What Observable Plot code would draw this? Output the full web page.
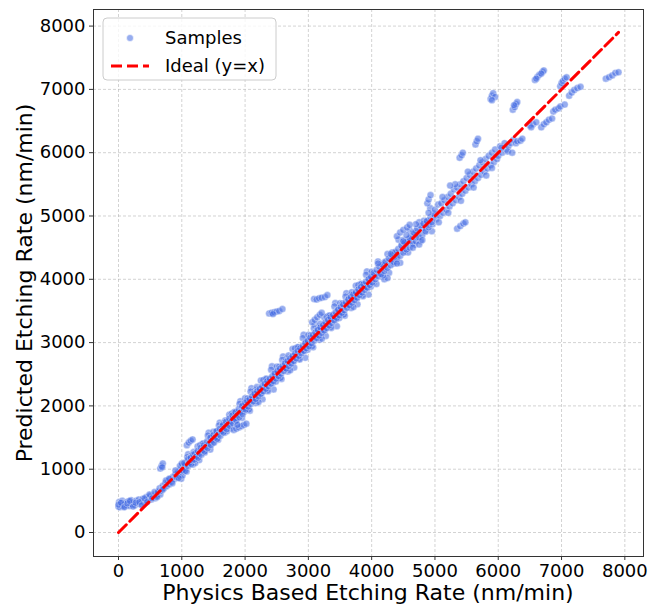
<!DOCTYPE html>
<html>
<head>
<meta charset="utf-8">
<script src="https://cdn.jsdelivr.net/npm/d3@7"></script>
<script src="https://cdn.jsdelivr.net/npm/@observablehq/plot@0.6"></script>
<style>
  html, body { margin: 0; padding: 0; background: #fff; }
  #chart { width: 648px; height: 606px; }
</style>
</head>
<body>
<div id="chart"></div>
<script>
// ---- Data (physics-based rate, predicted rate), nm/min ----
const lowRange = [
  [0,410],[10,480],[20,400],[30,460],[50,420],[60,500],[80,440],[100,410],[110,470],[130,430],
  [150,490],[170,420],[190,460],[200,510],[220,440],[240,480],[260,430],[280,500],[300,460],[320,520],
  [340,450],[360,490],[380,530],[400,470],[420,510],[440,560],[460,500],[480,540],[500,580],[520,520],
  [540,560],[560,600],[580,540],[600,620],[620,580],[640,650],[660,600],
  [0,440],[40,470],[90,400],[140,460],[180,500],[230,410],[270,470],[330,480],[370,430],[410,540],
  [450,480],[490,600],[530,540],[570,640],[610,560],
  [620,640],[650,700],[680,660],[700,740],[720,700],[740,780],[760,730],[780,820],[800,760],[820,850],
  [840,800],[860,880],[880,840],[900,920],[920,870],[940,960],[960,900],[980,1000],[1000,950],[1000,1060],
  [1020,1000],[1040,1080],[1060,1020],[1080,1120],[990,850],[1010,900],[970,1050],
  [700,680],[750,820],[800,850],[850,780],[900,980],[950,860]
];
const bandCore = [
  [1100,1050],[1100,1160],[1120,1100],[1140,1180],[1150,1080],[1170,1140],[1180,1230],[1200,1150],[1210,1250],[1230,1200],
  [1250,1290],[1260,1180],[1280,1250],[1300,1340],[1310,1230],[1330,1300],[1350,1380],[1360,1280],[1380,1350],[1400,1440],
  [1410,1330],[1430,1400],[1450,1500],[1460,1380],[1480,1450],[1500,1540],[1510,1420],[1530,1500],[1550,1600],[1560,1480],
  [1580,1550],[1600,1640],[1610,1530],[1630,1600],[1650,1700],[1660,1580],[1680,1650],[1700,1750],[1710,1630],[1730,1700],
  [1750,1800],[1760,1680],[1780,1750],[1800,1850],[1810,1720],[1830,1800],[1850,1900],[1860,1770],[1880,1850],[1900,1950],
  [1910,1820],[1930,1900],[1950,2000],[1960,1870],[1980,1950],[2000,2050],
  [2010,1940],[2030,2080],[2050,1990],[2070,2110],[2090,2030],[2110,2150],[2130,2070],[2150,2190],[2170,2110],[2190,2230],
  [2210,2150],[2230,2270],[2250,2190],[2270,2310],[2290,2230],[2310,2350],[2330,2270],[2350,2390],[2370,2310],[2390,2430],
  [2410,2350],[2430,2470],[2450,2390],[2470,2510],[2490,2430],[2510,2550],[2530,2470],[2550,2590],[2570,2510],[2590,2630],
  [2610,2550],[2630,2670],[2650,2590],[2670,2710],[2690,2630],[2710,2750],[2730,2670],[2750,2790],[2770,2710],[2790,2830],
  [2810,2750],[2830,2870],[2850,2790],[2870,2910],[2890,2830],[2910,2950],[2930,2870],[2950,2990],[2970,2910],[2990,3030],
  [3010,2940],[3030,3080],[3050,2990],[3070,3120],[3090,3030],[3110,3160],[3130,3070],[3150,3200],[3170,3110],[3190,3240],
  [3210,3150],[3230,3280],[3250,3190],[3270,3320],[3290,3230],[3310,3360],[3330,3270],[3350,3400],[3370,3310],[3390,3440],
  [3410,3350],[3430,3480],[3450,3390],[3470,3520],[3490,3430],[3510,3560],[3530,3470],[3550,3600],[3570,3510],[3590,3640],
  [3610,3550],[3630,3680],[3650,3590],[3670,3720],[3690,3630],[3710,3760],[3730,3670],[3750,3800],[3770,3710],[3790,3840],
  [3810,3750],[3830,3880],[3850,3790],[3870,3920],[3890,3830],[3910,3960],[3930,3870],[3950,4000],[3970,3910],[3990,4040],
  [4200,4000],[4250,4020],[4180,4060]
];
const bandWide1 = [
  [1000,1090],[1025,965],[1050,1070],[1075,965],[1100,1235],[1125,1110],[1150,1220],[1175,1075],[1200,1245],[1225,1180],
  [1250,1360],[1275,1145],[1300,1310],[1325,1400],[1350,1275],[1375,1405],[1400,1370],[1425,1575],[1450,1310],[1475,1525],
  [1500,1590],[1525,1465],[1550,1570],[1575,1465],[1600,1735],[1625,1610],[1650,1720],[1675,1575],[1700,1745],[1725,1680],
  [1750,1860],[1775,1645],[1800,1810],[1825,1900],[1850,1775],[1875,1905],[1900,1870],[1925,2075],[1950,1810],[1975,2025],
  [1012,982],[1037,1097],[1062,972],[1087,1192],[1112,1104],[1137,1182],[1162,1094],[1187,1270],[1212,1099],[1237,1260],
  [1262,1217],[1287,1377],[1312,1297],[1337,1405],[1362,1264],[1387,1387],[1412,1532],[1437,1384],[1462,1500],[1487,1412],
  [1512,1482],[1537,1597],[1562,1472],[1587,1692],[1612,1604],[1637,1682],[1662,1594],[1687,1770],[1712,1599],[1737,1760],
  [1762,1717],[1787,1877],[1812,1797],[1837,1905],[1862,1764],[1887,1887],[1912,2032],[1937,1884],[1962,2000],[1987,1912]
];
const bandWide2 = [
  [2000,2120],[2025,1945],[2050,2080],[2075,1925],[2100,2280],[2125,2105],[2150,2240],[2175,2045],[2200,2260],[2225,2165],
  [2250,2400],[2275,2105],[2300,2310],[2325,2425],[2350,2250],[2375,2415],[2400,2360],[2425,2625],[2450,2260],[2475,2545],
  [2500,2620],[2525,2445],[2550,2580],[2575,2425],[2600,2780],[2625,2605],[2650,2740],[2675,2545],[2700,2760],[2725,2665],
  [2750,2900],[2775,2605],[2800,2810],[2825,2925],[2850,2750],[2875,2915],[2900,2860],[2925,3125],[2950,2760],[2975,3045],
  [2012,1972],[2037,2117],[2062,1942],[2087,2227],[2112,2102],[2137,2197],[2162,2072],[2187,2297],[2212,2062],[2237,2267],
  [2262,2202],[2287,2407],[2312,2292],[2337,2427],[2362,2232],[2387,2387],[2412,2572],[2437,2367],[2462,2512],[2487,2387],
  [2512,2472],[2537,2617],[2562,2442],[2587,2727],[2612,2602],[2637,2697],[2662,2572],[2687,2797],[2712,2562],[2737,2767],
  [2762,2702],[2787,2907],[2812,2792],[2837,2927],[2862,2732],[2887,2887],[2912,3072],[2937,2867],[2962,3012],[2987,2887]
];
const bandWide3 = [
  [3000,3120],[3025,2945],[3050,3080],[3075,2925],[3100,3280],[3125,3105],[3150,3240],[3175,3045],[3200,3260],[3225,3165],
  [3250,3400],[3275,3105],[3300,3310],[3325,3425],[3350,3250],[3375,3415],[3400,3360],[3425,3625],[3450,3260],[3475,3545],
  [3500,3620],[3525,3445],[3550,3580],[3575,3425],[3600,3780],[3625,3605],[3650,3740],[3675,3545],[3700,3760],[3725,3665],
  [3750,3900],[3775,3605],[3800,3810],[3825,3925],[3850,3750],[3875,3915],[3900,3860],[3925,4125],[3950,3760],[3975,4045],
  [3012,2972],[3037,3117],[3062,2942],[3087,3227],[3112,3102],[3137,3197],[3162,3072],[3187,3297],[3212,3062],[3237,3267],
  [3262,3202],[3287,3407],[3312,3292],[3337,3427],[3362,3232],[3387,3387],[3412,3572],[3437,3367],[3462,3512],[3487,3387],
  [3512,3472],[3537,3617],[3562,3442],[3587,3727],[3612,3602],[3637,3697],[3662,3572],[3687,3797],[3712,3562],[3737,3767],
  [3762,3702],[3787,3907],[3812,3792],[3837,3927],[3862,3732],[3887,3887],[3912,4072],[3937,3867],[3962,4012],[3987,3887],
  [4000,4120],[4025,3945],[4050,4080],[4075,3925],[4100,4280],[4125,4105],[4150,4240],[4175,4045],[4200,4260],[4225,4165],
  [4250,4400],[4275,4105],[4300,4310],[4325,4425],[4350,4250],[4375,4415],[4400,4360],[4425,4625],[4450,4260],[4475,4545],
  [4500,4620],[4525,4445],[4550,4580],[4575,4425],[4600,4780],[4625,4605],[4650,4740],[4675,4545],[4700,4760],[4725,4665],
  [4750,4900],[4775,4605],[4800,4810],[4825,4925],[4850,4750],[4875,4915],[4900,4860],[4925,5125],[4950,4760],[4975,5045]
];
const highRange = [
  [4010,3950],[4030,4100],[4060,4000],[4080,4150],[4100,4050],[4120,4200],[4150,4080],[4170,4230],[4200,4130],[4220,4280],
  [4250,4180],[4270,4330],[4300,4220],[4320,4380],[4350,4270],[4370,4430],[4400,4320],[4420,4480],[4450,4370],[4470,4530],
  [4500,4420],[4520,4580],[4550,4470],[4570,4630],[4600,4500],[4620,4680],[4650,4560],[4670,4730],[4700,4600],[4720,4800],
  [4750,4660],[4770,4850],[4800,4700],[4820,4880],[4850,4760],[4870,4920],[4900,4820],[4930,4980],[4960,4870],[4990,5020],
  [4100,4250],[4300,4400],[4500,4600],[4600,4650],[4700,4870],[4750,4550],[4650,4500],[4400,4250],[4550,4700],[4800,4620],
  [4900,5050],[4950,4900],[4400,4680],[4450,4740],[4500,4780],[4560,4820],[4600,4860],
  [5000,5100],[5020,4950],[5050,5180],[5080,5000],[5100,5200],[5130,5050],[5150,5250],[5180,5100],[5200,5300],[5230,5150],
  [5250,5350],[5280,5200],[5300,5420],[5330,5250],[5350,5450],[5380,5300],[5400,5500],[5430,5350],[5450,5550],[5480,5400],
  [5500,5600],[5530,5450],[5550,5650],[5580,5500],[5600,5700],[5630,5550],[5650,5750],[5680,5600],[5700,5800],[5730,5650],
  [5750,5850],[5780,5700],[5800,5900],[5830,5750],[5850,5950],[5880,5800],[5900,6000],[5930,5850],[5950,6050],[5980,5900],
  [5060,4900],[5120,5300],[5210,5050],[5320,5500],[5410,5240],[5520,5700],[5610,5450],[5720,5880],[5810,5640],[5900,5760],
  [6000,5950],[6030,6100],[6060,6000],[6100,6150],[6130,6050],[6160,6100],[6200,6150],[6240,6200],[6280,6150],[6300,6180],
  [6350,6190],[6380,6220],[6050,6080],[6150,6020],[6220,6000],
  [6500,6430],[6550,6450],[6600,6480],[6520,6400],[6680,6400],[6720,6450],[6760,6480],[6800,6520],[6850,6540],[6870,6650],
  [6900,6680],[6950,6700],[6980,6730],[7050,6760],
  [6980,7050],[7000,7100],[7020,7130],[7050,7170],[7080,7190],[7120,6900],[7160,6950],[7200,6990],[7250,7020],[7300,7040],
  [7700,7170],[7750,7190],[7800,7220],[7850,7260],[7900,7270]
];
const outliers = [
  [660,1010],[680,1050],[700,1090],[690,1030],
  [1080,1380],[1110,1420],[1140,1450],[1170,1470],
  [1820,1620],[1860,1640],[1900,1660],[1940,1680],[1980,1700],[2020,1720],[1880,1700],
  [2380,3460],[2420,3470],[2460,3480],[2500,3490],[2540,3500],[2590,3530],[2440,3450],
  [3060,3320],[3100,3360],[3140,3400],[3180,3440],[3210,3470],
  [3090,3690],[3130,3680],[3170,3700],[3210,3710],[3260,3720],[3300,3750],
  [4880,5200],[4900,5260],[4930,5330],[5240,5480],
  [5350,4800],[5400,4840],[5450,4880],[5480,4900],
  [5390,5920],[5420,5960],[5440,6000],[5640,6130],[5660,6180],[5680,6220],
  [5880,6850],[5900,6900],[5920,6940],[5950,6880],[5900,6830],
  [6230,6680],[6260,6720],[6280,6770],[6300,6800],[6250,6750],
  [6580,7150],[6620,7200],[6650,7230],[6700,7280],[6720,7300],[6600,7170],[6680,7250]
];
const xTicks = [0,1000,2000,3000,4000,5000,6000,7000,8000];
const yTicks = [0,1000,2000,3000,4000,5000,6000,7000,8000];
const xLabel = "Physics Based Etching Rate (nm/min)";
const yLabel = "Predicted Etching Rate (nm/min)";
const legendLabels = ["Samples", "Ideal (y=x)"];

// ---- Build ----
const samples = [...lowRange, ...bandWide1, ...bandWide2, ...bandWide3, ...bandCore, ...highRange, ...outliers]
  .map(([x, y]) => ({x, y}));
const [xmin, xmax] = d3.extent(samples, d => d.x);
const ideal = [{x: xmin, y: xmin}, {x: xmax, y: xmax}];

const gridStyle = {stroke: "#b0b0b0", strokeOpacity: 0.7, strokeDasharray: "3,2", strokeWidth: 0.8};
const fmt = d3.format("d");

const chart = Plot.plot({
  width: 648,
  height: 606,
  marginLeft: 93,
  marginRight: 5,
  marginTop: 9,
  marginBottom: 50,
  style: {fontFamily: "DejaVu Sans, sans-serif", fontSize: "18px", color: "#000", background: "#fff"},
  x: {domain: [-395, 8295]},
  y: {domain: [-379, 8262]},
  marks: [
    Plot.gridX(xTicks, gridStyle),
    Plot.gridY(yTicks, gridStyle),
    Plot.dot(samples, {x: "x", y: "y", r: 3.5, fill: "#4169E1", fillOpacity: 0.55,
      stroke: "white", strokeOpacity: 0.6, strokeWidth: 0.6}),
    Plot.line(ideal, {x: "x", y: "y", stroke: "red", strokeWidth: 3, strokeDasharray: "11,5"}),
    Plot.frame({stroke: "#333", strokeWidth: 1}),
    Plot.axisX(xTicks, {tickSize: 4, tickPadding: 4, label: null, fontSize: 18, stroke: "#333", tickFormat: fmt}),
    Plot.axisY(yTicks, {tickSize: 4, tickPadding: 4, label: null, fontSize: 18, stroke: "#333", tickFormat: fmt})
  ]
});
document.getElementById("chart").appendChild(chart);

const svg = d3.select(chart);
svg.append("text")
  .attr("x", 368).attr("y", 600)
  .attr("text-anchor", "middle")
  .attr("font-size", 22)
  .attr("fill", "#000")
  .text(xLabel);
svg.append("text")
  .attr("transform", "translate(32,283) rotate(-90)")
  .attr("text-anchor", "middle")
  .attr("font-size", 22)
  .attr("fill", "#000")
  .text(yLabel);

// legend
const lg = svg.append("g");
lg.append("rect").attr("x", 103).attr("y", 18).attr("width", 173).attr("height", 62)
  .attr("rx", 4).attr("fill", "#fff").attr("fill-opacity", 0.8).attr("stroke", "#ccc");
lg.append("circle").attr("cx", 130).attr("cy", 38).attr("r", 3.5)
  .attr("fill", "#4169E1").attr("fill-opacity", 0.55).attr("stroke", "white").attr("stroke-width", 0.6);
lg.append("line").attr("x1", 111).attr("x2", 149).attr("y1", 66).attr("y2", 66)
  .attr("stroke", "red").attr("stroke-width", 3).attr("stroke-dasharray", "11,5");
lg.append("text").attr("x", 165).attr("y", 38).attr("dy", "0.35em").attr("text-anchor", "start")
  .attr("font-size", 18).attr("fill", "#000").text(legendLabels[0]);
lg.append("text").attr("x", 165).attr("y", 66).attr("dy", "0.35em").attr("text-anchor", "start")
  .attr("font-size", 18).attr("fill", "#000").text(legendLabels[1]);
</script>
</body>
</html>
